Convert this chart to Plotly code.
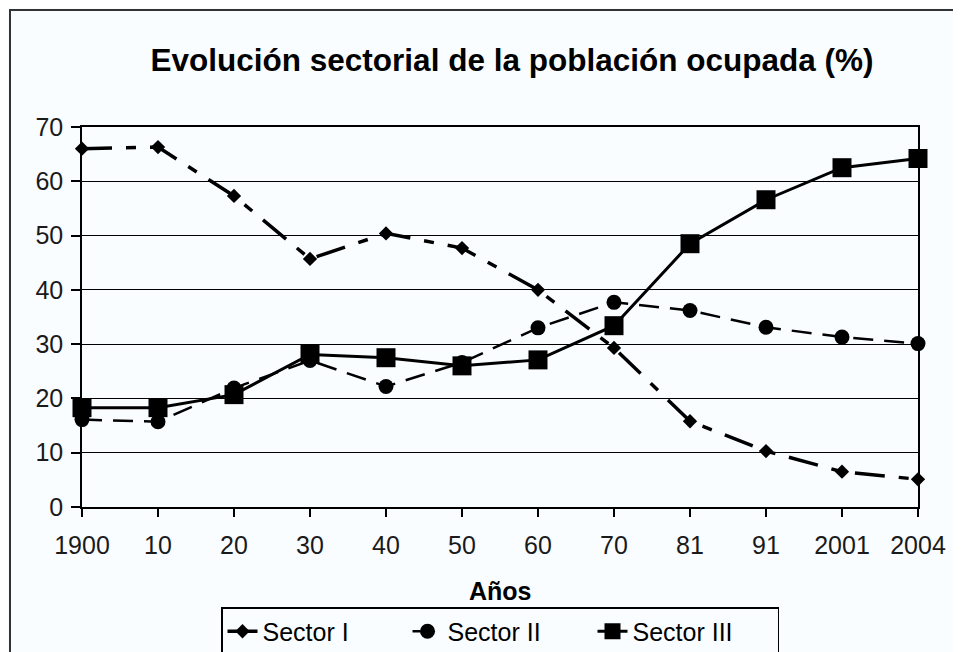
import plotly.graph_objects as go

years = ["1900", "10", "20", "30", "40", "50", "60", "70", "81", "91", "2001", "2004"]
sector_i = [66.0, 66.3, 57.3, 45.7, 50.4, 47.7, 40.0, 29.3, 15.8, 10.3, 6.5, 5.1]
sector_ii = [16.1, 15.7, 21.9, 27.0, 22.2, 26.6, 33.0, 37.7, 36.2, 33.1, 31.3, 30.1]
sector_iii = [18.3, 18.3, 20.7, 28.1, 27.5, 26.0, 27.1, 33.4, 48.5, 56.6, 62.5, 64.2]

y_ticks = [0, 10, 20, 30, 40, 50, 60, 70]

FONT = "Liberation Sans, Arial, sans-serif"
BG = "#fafdff"
# page body has an 8px margin; layout values below are in figure pixels
OFF = 8
PL, PR, PT, PB = 82 - OFF, 918 - OFF, 127 - OFF, 507 - OFF  # plot area in figure px
W, H = 961, 652
PH = PB - PT


def py(v):  # viewport y pixel -> paper fraction
    return (507 - v) / PH


fig = go.Figure()
fig.add_trace(go.Scatter(
    x=years, y=sector_i, name="Sector I", mode="lines+markers",
    line=dict(color="black", width=3.5, dash="30px,14px,10px,14px"),
    marker=dict(symbol="diamond", size=11, color="black"),
    cliponaxis=False,
))
fig.add_trace(go.Scatter(
    x=years, y=sector_ii, name="Sector II", mode="lines+markers",
    line=dict(color="black", width=2.5, dash="20px,11px"),
    marker=dict(symbol="circle", size=15, color="black"),
    cliponaxis=False,
))
fig.add_trace(go.Scatter(
    x=years, y=sector_iii, name="Sector III", mode="lines+markers",
    line=dict(color="black", width=3),
    marker=dict(symbol="square", size=19, color="black"),
    cliponaxis=False,
))

fig.update_layout(
    width=W, height=H,
    margin=dict(l=PL, r=W - PR, t=PT, b=H - PB, autoexpand=False),
    paper_bgcolor=BG, plot_bgcolor=BG,
    font=dict(family=FONT, color="black", size=25),
    title=dict(
        text="<b>Evolución sectorial de la población ocupada (%)</b>",
        x=(512 - OFF) / W, xanchor="center", xref="container",
        y=1 - (60 - OFF) / H, yanchor="middle", yref="container",
        font=dict(family=FONT, size=31.5, color="black"),
    ),
    showlegend=True,
    legend=dict(
        orientation="h", x=0.5, xanchor="center", y=py(607), yanchor="top",
        bordercolor="black", borderwidth=1.5, bgcolor=BG,
        font=dict(family=FONT, size=25, color="black"),
        entrywidth=140, entrywidthmode="pixels", tracegroupgap=0,
    ),
    xaxis=dict(
        type="category", range=[0, 11],
        showgrid=False, showline=True, linecolor="black", linewidth=1.5, mirror=True,
        ticks="outside", ticklen=8, tickcolor="black", tickwidth=1.5,
        tickfont=dict(family=FONT, size=25, color="#1a1a1a"),
        ticklabelstandoff=7,
        zeroline=False,
    ),
    yaxis=dict(
        range=[0, 70], tickvals=y_ticks,
        showgrid=True, gridcolor="black", gridwidth=1.2,
        showline=True, linecolor="black", linewidth=1.5, mirror=True,
        ticks="outside", ticklen=9, tickcolor="black", tickwidth=1.5,
        tickfont=dict(family=FONT, size=25, color="#1a1a1a"),
        ticklabelstandoff=3,
        zeroline=False,
    ),
    annotations=[dict(
        text="<b>Años</b>", x=0.5, xref="paper", y=py(591), yref="paper",
        xanchor="center", yanchor="middle", showarrow=False,
        font=dict(family=FONT, size=25, color="black"),
    )],
    shapes=[dict(
        type="rect", xref="paper", yref="paper",
        x0=(10 - 82) / (PR - PL), x1=1.2, y0=-0.6, y1=py(10),
        line=dict(color="#333", width=2), layer="above",
    )],
)

fig.write_html("out.html")
